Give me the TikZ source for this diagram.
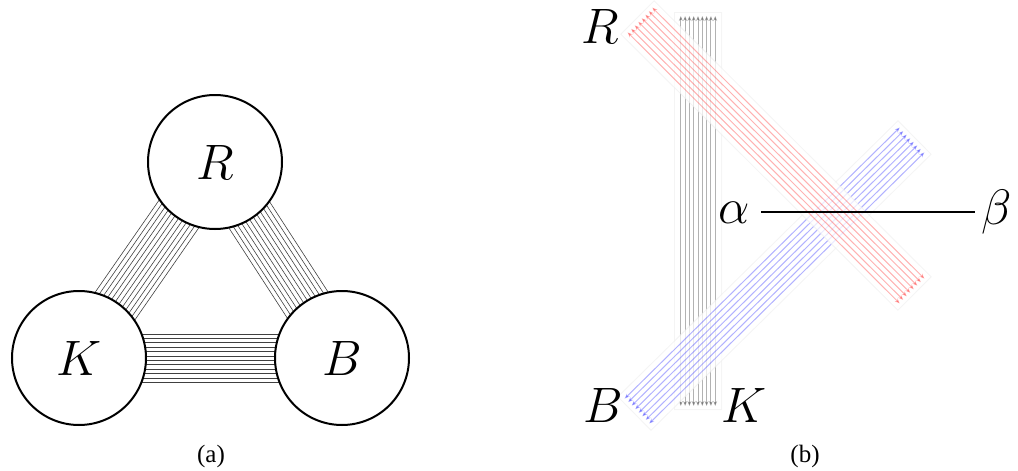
\documentclass[tikz,border=0pt]{standalone}
\usepackage{fontspec}
\newfontfamily\capfont{Liberation Serif}
\usetikzlibrary{calc,arrows.meta,backgrounds}
\begin{document}
\begin{tikzpicture}[x=0.5pt,y=-0.5pt,
  circ/.style={circle,draw,line width=1pt,fill=white,minimum size=67pt,inner sep=0pt,font=\fontsize{24}{28}\selectfont},
  lbl/.style={font=\fontsize{24}{28}\selectfont,inner sep=0pt,anchor=base},
  captext/.style={font=\capfont\fontsize{12.5}{15}\selectfont,inner sep=0pt},
  wire/.style={line width=0.3pt,black!75},
  tip/.style={{Stealth[length=2.5pt,width=2pt]}-{Stealth[length=2.5pt,width=2pt]}},
  kwire/.style={tip,line width=0.45pt,black,opacity=0.3},
  rwire/.style={tip,line width=0.5pt,red,opacity=0.3},
  bwire/.style={tip,line width=0.5pt,blue,opacity=0.3},
  bandbg/.style={line width=#1,line cap=butt}
]
\useasboundingbox (0,0) rectangle (1018,471);

% ---------- panel (a)
\node[circ] (R) at (215,162) {$R$};
\node[circ] (K) at (79,358) {$K$};
\node[circ] (B) at (342,358) {$B$};
\begin{scope}[on background layer]
\foreach \a/\b in {K/R,R/B,K/B}{
  \foreach \i in {0,...,11}{
    \pgfmathsetmacro\off{(\i-5.5)*2.2}
    \draw[wire] ($(\a.center)!\off pt!90:(\b.center)$) -- ($(\b.center)!\off pt!-90:(\a.center)$);
  }
}
\end{scope}
\node[captext] (ca) at (211,456) {(a)};

% ---------- panel (b)
\coordinate (kb) at (698,406);
\coordinate (kt) at (698,16);
\coordinate (b1) at (637,411);
\coordinate (b2) at (912,140);
\coordinate (r1) at (640,20);
\coordinate (r2) at (912,291);

% black vertical bundle
\begin{scope}[transparency group,opacity=0.75]
\draw[bandbg=24pt,black!6,shorten <=-2pt,shorten >=-2pt] (kb) -- (kt);
\draw[bandbg=23pt,white,shorten <=-1.5pt,shorten >=-1.5pt] (kb) -- (kt);
\end{scope}
\foreach \i in {0,...,8}{
  \pgfmathsetmacro\off{(\i-4)*2.15}
  \draw[kwire] ($(kb)!\off pt!90:(kt)$) -- ($(kt)!\off pt!-90:(kb)$);
}

% blue bundle
\begin{scope}[transparency group,opacity=0.75]
\draw[bandbg=24pt,black!6,shorten <=-2pt,shorten >=-2pt] (b1) -- (b2);
\draw[bandbg=23pt,white,shorten <=-1.5pt,shorten >=-1.5pt] (b1) -- (b2);
\end{scope}
\foreach \i in {0,...,7}{
  \pgfmathsetmacro\off{(\i-3.5)*2.5}
  \draw[bwire] ($(b1)!\off pt!90:(b2)$) -- ($(b2)!\off pt!-90:(b1)$);
}

% red bundle
\begin{scope}[transparency group,opacity=0.75]
\draw[bandbg=24pt,black!6,shorten <=-2pt,shorten >=-2pt] (r1) -- (r2);
\draw[bandbg=23pt,white,shorten <=-1.5pt,shorten >=-1.5pt] (r1) -- (r2);
\end{scope}
\foreach \i in {0,...,7}{
  \pgfmathsetmacro\off{(\i-3.5)*2.5}
  \draw[rwire] ($(r1)!\off pt!90:(r2)$) -- ($(r2)!\off pt!-90:(r1)$);
}

\node[lbl] (Rb) at (600,43) {$R$};
\node[lbl] (Bb) at (603,422) {$B$};
\node[lbl] (Kb) at (744,422) {$K$};
\node[lbl] (al) at (734,223) {$\alpha$};
\node[lbl] (be) at (997,224) {$\beta$};
\draw[line width=1pt,shorten <=5.5pt,shorten >=3pt] (al.east) -- (al.east -| be.west);

\node[captext] (cb) at (805,456) {(b)};
\end{tikzpicture}
\end{document}
